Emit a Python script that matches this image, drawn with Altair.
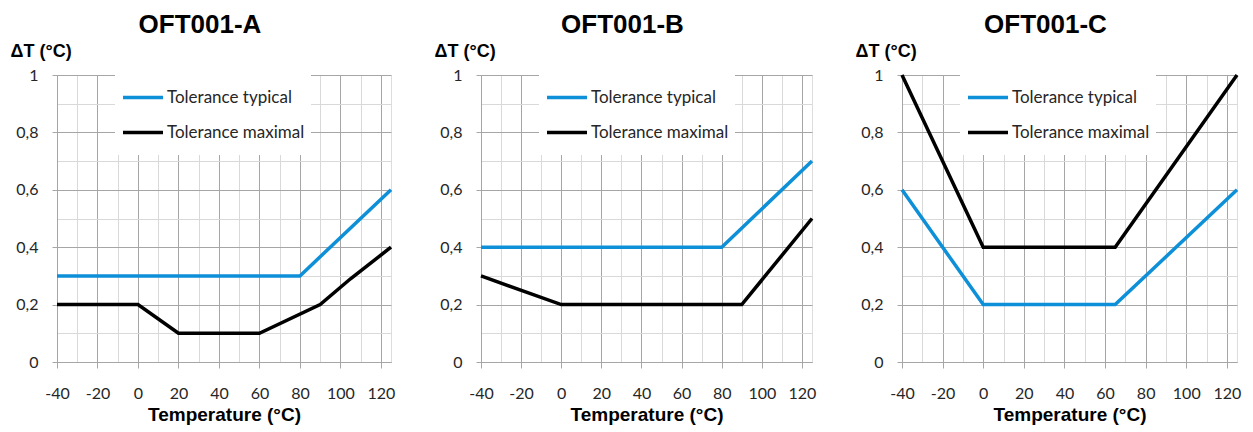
import altair as alt
import pandas as pd

# ---------------- data ----------------
panels = ["OFT001-A", "OFT001-B", "OFT001-C"]
series = ["Tolerance typical", "Tolerance maximal"]

a_typ_t = [-40, 80, 125]
a_typ_v = [0.3, 0.3, 0.6]
a_max_t = [-40, 0, 20, 60, 90, 105, 125]
a_max_v = [0.2, 0.2, 0.1, 0.1, 0.2, 0.29, 0.4]

b_typ_t = [-40, 80, 125]
b_typ_v = [0.4, 0.4, 0.7]
b_max_t = [-40, 0, 90, 125]
b_max_v = [0.3, 0.2, 0.2, 0.5]

c_typ_t = [-40, 0, 65, 125]
c_typ_v = [0.6, 0.2, 0.2, 0.6]
c_max_t = [-40, 0, 65, 125]
c_max_v = [1.0, 0.4, 0.4, 1.0]

x_ticks = [-40, -30, -20, -10, 0, 10, 20, 30, 40, 50, 60, 70, 80, 90, 100, 110, 120]
y_ticks = [0, 0.1, 0.2, 0.3, 0.4, 0.5, 0.6, 0.7, 0.8, 0.9, 1.0]
x_domain = [-40, 125]
y_domain = [0, 1]

# ---------------- style ----------------
BLUE = "#0E90D8"
BLACK = "#000000"
MAJ = "#a6a6a6"
MIN = "#d9d9d9"
LABEL_FONT = "Lato"
BOLD_FONT = "Liberation Sans"
widths = [334, 331, 335]
H = 287


def make_df(tt, tv, mt, mv):
    rows = []
    for i, (t, v) in enumerate(zip(tt, tv)):
        rows.append({"t": t, "v": v, "s": series[0], "o": i})
    for i, (t, v) in enumerate(zip(mt, mv)):
        rows.append({"t": t, "v": v, "s": series[1], "o": i})
    return pd.DataFrame(rows)


dfs = [
    make_df(a_typ_t, a_typ_v, a_max_t, a_max_v),
    make_df(b_typ_t, b_typ_v, b_max_t, b_max_v),
    make_df(c_typ_t, c_typ_v, c_max_t, c_max_v),
]

x_major = "datum.value % 20 === 0"
y_major = "round(datum.value * 10) % 2 === 0"


def panel(df, title, w):
    x = alt.X(
        "t:Q",
        scale=alt.Scale(domain=x_domain, nice=False, zero=False),
        axis=alt.Axis(
            values=x_ticks,
            title="Temperature (°C)",
            titleFont=BOLD_FONT,
            titleFontSize=19,
            titleFontWeight="bold",
            titleColor="black",
            titlePadding=4,
            labelExpr=f"{x_major} ? toString(datum.value) : ''",
            labelFont=LABEL_FONT,
            labelFontSize=16,
            labelColor="#262626",
            labelPadding=17,
            labelOverlap=False,
            labelFlush=False,
            grid=True,
            gridColor={"condition": {"test": x_major, "value": MAJ}, "value": MIN},
            gridWidth=1,
            tickSize=6,
            tickColor=MAJ,
            tickOpacity={"condition": {"test": x_major, "value": 1}, "value": 0},
            domainColor=MAJ,
        ),
    )
    y = alt.Y(
        "v:Q",
        scale=alt.Scale(domain=y_domain, nice=False),
        axis=alt.Axis(
            values=y_ticks,
            title="ΔT (°C)",
            titleFont=BOLD_FONT,
            titleFontSize=18,
            titleFontWeight="bold",
            titleColor="black",
            titleAngle=0,
            titleAlign="left",
            titleBaseline="alphabetic",
            titleX=-47,
            titleY=-19,
            labelExpr=f"{y_major} ? replace(toString(round(datum.value * 10) / 10), '.', ',') : ''",
            labelFont=LABEL_FONT,
            labelFontSize=16,
            labelColor="#262626",
            labelPadding=14,
            labelOverlap=False,
            grid=True,
            gridColor={"condition": {"test": y_major, "value": MAJ}, "value": MIN},
            gridWidth=1,
            tickSize=5,
            tickColor=MAJ,
            tickOpacity={"condition": {"test": y_major, "value": 1}, "value": 0},
            domainColor=MAJ,
        ),
    )
    color = alt.Color(
        "s:N",
        scale=alt.Scale(domain=series, range=[BLUE, BLACK]),
        legend=alt.Legend(
            title=None,
            orient="none",
            legendX=58,
            legendY=0,
            fillColor="white",
            padding=6,
            symbolType="stroke",
            symbolSize=1600,
            symbolStrokeWidth=3.5,
            labelFont=LABEL_FONT,
            labelFontSize=17,
            labelColor="#262626",
            labelOffset=2,
            clipHeight=33,
            rowPadding=2,
        ),
    )
    return (
        alt.Chart(df)
        .mark_line(strokeWidth=3.5)
        .encode(x=x, y=y, color=color, order="o:Q")
        .properties(
            width=w,
            height=H,
            title=alt.TitleParams(
                text=title,
                font=BOLD_FONT,
                fontSize=26,
                fontWeight="bold",
                color="black",
                anchor="middle",
                frame="group",
                dx=-24,
                offset=4,
            ),
        )
    )


charts = [panel(df, t, w) for df, t, w in zip(dfs, panels, widths)]

chart = (
    alt.hconcat(*charts, spacing=34)
    .resolve_scale(color="independent")
    .properties(padding={"left": 1, "top": 3, "right": 0, "bottom": 0})
    .configure_view(stroke=MIN, strokeWidth=1)
    .configure(background="white")
)

chart.save("out.html", embed_options={"renderer": "svg", "actions": False})
